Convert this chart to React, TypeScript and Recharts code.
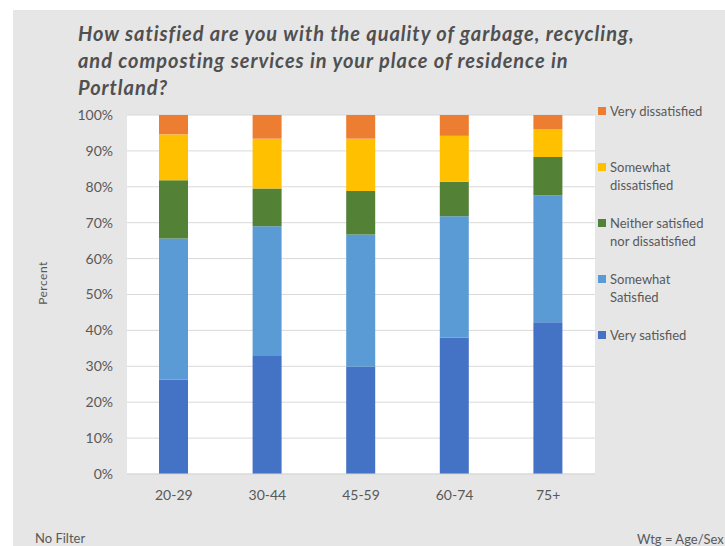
import React from "react";
import { BarChart, Bar, XAxis, YAxis, CartesianGrid, Legend } from "recharts";

const categories = ["20-29", "30-44", "45-59", "60-74", "75+"];
const verySatisfied = [26.3, 32.9, 29.9, 38.0, 42.3];
const somewhatSatisfied = [39.3, 36.1, 36.8, 33.8, 35.3];
const neither = [16.2, 10.5, 12.1, 9.6, 10.7];
const somewhatDissatisfied = [12.8, 13.9, 14.6, 12.8, 7.8];
const veryDissatisfied = [5.4, 6.6, 6.6, 5.8, 3.9];
const yTicks = [0, 10, 20, 30, 40, 50, 60, 70, 80, 90, 100];

const series = [
  { key: "vs", name: "Very satisfied", label: "Very satisfied", color: "#4472c4" },
  { key: "ss", name: "Somewhat Satisfied", label: "Somewhat\nSatisfied", color: "#5b9bd5" },
  { key: "ne", name: "Neither satisfied nor dissatisfied", label: "Neither satisfied\nnor dissatisfied", color: "#538135" },
  { key: "sd", name: "Somewhat dissatisfied", label: "Somewhat\ndissatisfied", color: "#ffc000" },
  { key: "vd", name: "Very dissatisfied", label: "Very dissatisfied", color: "#ed7d31" },
];

const data = categories.map((c, i) => ({
  age: c,
  vs: verySatisfied[i],
  ss: somewhatSatisfied[i],
  ne: neither[i],
  sd: somewhatDissatisfied[i],
  vd: veryDissatisfied[i],
}));

const FONT = "Lato, 'Open Sans', sans-serif";
const TEXT = "#595959";

function LegendBox() {
  const items = [...series].reverse();
  return (
    <div style={{ fontFamily: FONT, fontSize: 13, color: TEXT }}>
      {items.map((s) => (
        <div key={s.key} style={{ height: 56, display: "flex", alignItems: "flex-start" }}>
          <span
            style={{
              width: 8,
              height: 8,
              background: s.color,
              marginTop: 5,
              marginRight: 4,
              flex: "none",
            }}
          />
          <span style={{ whiteSpace: "pre-line", lineHeight: "18px" }}>{s.label}</span>
        </div>
      ))}
    </div>
  );
}

export default function App() {
  return (
    <div
      style={{
        position: "absolute",
        left: 0,
        top: 0,
        width: 725,
        height: 546,
        background: "#fff",
        overflow: "hidden",
        fontFamily: FONT,
      }}
    >
      <div
        style={{
          position: "absolute",
          left: 13,
          top: 10,
          width: 725,
          height: 546,
          background: "#e6e6e6",
        }}
      />
      <div
        style={{
          position: "absolute",
          left: 78,
          top: 20,
          fontSize: 20,
          lineHeight: "27px",
          letterSpacing: 0.95,
          fontWeight: 700,
          fontStyle: "italic",
          color: "#505050",
        }}
      >
        How satisfied are you with the quality of garbage, recycling,
        <br />
        and composting services in your place of residence in
        <br />
        Portland?
      </div>
      <div style={{ position: "absolute", left: 0, top: 0 }}>
        <BarChart
          width={725}
          height={546}
          data={data}
          margin={{ top: 115, right: 130, bottom: 42, left: 67 }}
          barSize={29}
        >
          <CartesianGrid vertical={false} stroke="#d9d9d9" fill="#ffffff" />
          <XAxis
            dataKey="age"
            height={30}
            tickLine={false}
            axisLine={{ stroke: "#d9d9d9" }}
            tickMargin={10}
            tick={{ fontSize: 14, fill: TEXT, fontFamily: FONT }}
          />
          <YAxis
            width={60}
            domain={[0, 100]}
            ticks={yTicks}
            tickFormatter={(v) => `${v}%`}
            axisLine={false}
            tickLine={false}
            tickMargin={8}
            tick={{ fontSize: 14, fill: TEXT, fontFamily: FONT }}
          />
          <Legend
            layout="vertical"
            align="center"
            verticalAlign="middle"
            content={() => <LegendBox />}
            wrapperStyle={{ left: 598, top: 102, width: 125 }}
          />
          {series.map((s) => (
            <Bar
              key={s.key}
              dataKey={s.key}
              name={s.name}
              stackId="a"
              fill={s.color}
              isAnimationActive={false}
            />
          ))}
        </BarChart>
      </div>
      <div
        style={{
          position: "absolute",
          left: 42,
          top: 283,
          transform: "translate(-50%, -50%) rotate(-90deg)",
          fontSize: 12,
          color: TEXT,
          letterSpacing: 0.5,
        }}
      >
        Percent
      </div>
      <div style={{ position: "absolute", left: 35, top: 530, fontSize: 13, color: TEXT }}>
        No Filter
      </div>
      <div style={{ position: "absolute", left: 637, top: 531, fontSize: 13, color: TEXT }}>
        Wtg = Age/Sex
      </div>
    </div>
  );
}
